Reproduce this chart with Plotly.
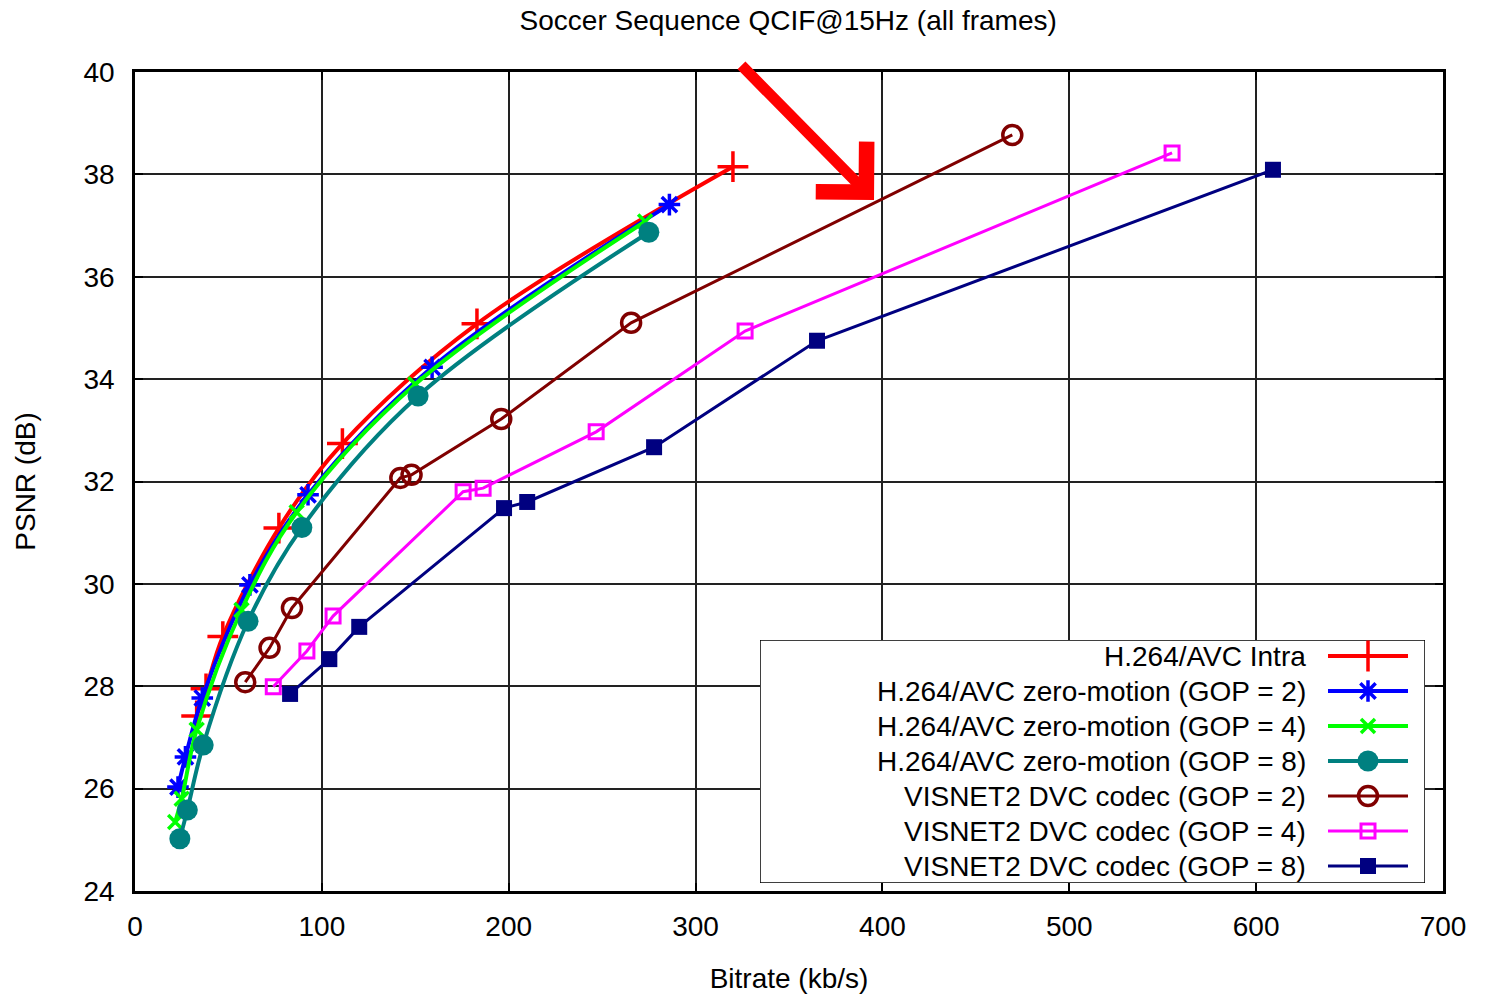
import plotly.graph_objects as go

# ---------------- data ----------------
intra_x = [33, 38, 47, 77, 111, 183, 320]
intra_y = [27.42, 27.95, 28.97, 31.09, 32.74, 35.08, 38.15]

gop2_x = [23, 27, 36, 61.5, 92.6, 159, 286]
gop2_y = [26.03, 26.62, 27.77, 29.98, 31.74, 34.23, 37.41]

gop4_x = [21.5, 25, 33, 57, 86.5, 150, 273]
gop4_y = [25.35, 25.80, 27.15, 29.49, 31.40, 33.90, 37.08]

gop8_x = [24, 28, 36.5, 60.5, 89.3, 151.5, 275]
gop8_y = [25.02, 25.58, 26.85, 29.27, 31.10, 33.67, 36.87]

dvc2_x = [59, 72, 84, 142, 148, 196, 265.5, 469.5]
dvc2_y = [28.08, 28.75, 29.53, 32.07, 32.13, 33.22, 35.10, 38.77]

dvc4_x = [74, 92, 106, 175.6, 186.3, 246.8, 326.5, 555]
dvc4_y = [27.99, 28.69, 29.37, 31.80, 31.87, 32.97, 34.94, 38.42]

dvc8_x = [83, 104, 120, 197.5, 209.9, 277.8, 365, 609]
dvc8_y = [27.85, 28.53, 29.16, 31.48, 31.60, 32.67, 34.75, 38.09]

labels = [
    "H.264/AVC Intra",
    "H.264/AVC zero-motion (GOP = 2)",
    "H.264/AVC zero-motion (GOP = 4)",
    "H.264/AVC zero-motion (GOP = 8)",
    "VISNET2 DVC codec (GOP = 2)",
    "VISNET2 DVC codec (GOP = 4)",
    "VISNET2 DVC codec (GOP = 8)",
]
x_ticks = [0, 100, 200, 300, 400, 500, 600, 700]
y_ticks = [24, 26, 28, 30, 32, 34, 36, 38, 40]

title_text = "Soccer Sequence QCIF@15Hz (all frames)"
x_title = "Bitrate (kb/s)"
y_title = "PSNR (dB)"

# ---------------- styles ----------------
FONT = "Liberation Sans, Arial, sans-serif"
FS = 28
styles = [
    dict(color="#FF0000", symbol="cross-thin", size=22, lw=4, mlw=3.5, shape="spline"),
    dict(color="#0000FF", symbol="asterisk", size=18, lw=4, mlw=3.5, shape="spline"),
    dict(color="#00FF00", symbol="x-thin", size=14, lw=4, mlw=3.5, shape="spline"),
    dict(color="#008080", symbol="circle", size=21, lw=4, mlw=0, shape="spline"),
    dict(color="#800000", symbol="circle-open", size=19, lw=3, mlw=3.5, shape="linear"),
    dict(color="#FF00FF", symbol="square-open", size=14, lw=3, mlw=3, shape="linear"),
    dict(color="#000080", symbol="square", size=16, lw=3, mlw=0, shape="linear"),
]
series = [(intra_x, intra_y), (gop2_x, gop2_y), (gop4_x, gop4_y), (gop8_x, gop8_y),
          (dvc2_x, dvc2_y), (dvc4_x, dvc4_y), (dvc8_x, dvc8_y)]

fig = go.Figure()

for (xs, ys), st, name in zip(series, styles, labels):
    fig.add_trace(go.Scatter(
        x=xs, y=ys, mode="lines+markers", name=name, showlegend=False,
        line=dict(color=st["color"], width=st["lw"], shape=st["shape"], smoothing=1.0),
        marker=dict(symbol=st["symbol"], size=st["size"], color=st["color"],
                    line=dict(color=st["color"], width=st["mlw"])),
        xaxis="x", yaxis="y",
    ))

# ---------------- custom legend (symbol on the right) ----------------
LX0, LX1, LY0, LY1 = 760, 1425, 640, 883
rows = [656, 691, 726, 761, 796, 831, 866]
fig.add_shape(type="rect", xref="x2", yref="y2", x0=LX0, x1=LX1, y0=LY0, y1=LY1,
              line=dict(color="black", width=1.5), fillcolor="white", layer="between")
for r, st, name in zip(rows, styles, labels):
    fig.add_trace(go.Scatter(
        x=[1328, 1408], y=[r, r], mode="lines", showlegend=False, hoverinfo="skip",
        line=dict(color=st["color"], width=st["lw"]), xaxis="x2", yaxis="y2"))
    fig.add_trace(go.Scatter(
        x=[1368], y=[r], mode="markers", showlegend=False, hoverinfo="skip",
        marker=dict(symbol=st["symbol"], size=st["size"], color=st["color"],
                    line=dict(color=st["color"], width=st["mlw"])),
        xaxis="x2", yaxis="y2"))
    fig.add_annotation(x=1308, y=r, xref="x2", yref="y2", text=name, showarrow=False,
                       xanchor="right", yanchor="middle",
                       font=dict(family=FONT, size=FS, color="black"))

# red arrow
fig.add_annotation(x=395.5, y=37.5, xref="x", yref="y", ax=-134, ay=-136,
                   axref="pixel", ayref="pixel", text="", showarrow=True,
                   arrowcolor="#FF0000", arrowwidth=11, arrowhead=4, arrowsize=1.25)

axis_common = dict(
    showline=True, linecolor="black", linewidth=2.5, mirror="ticks",
    ticks="inside", ticklen=8, tickwidth=2, tickcolor="black",
    showgrid=True, gridcolor="#222222", gridwidth=1.5, zeroline=False,
    tickfont=dict(family=FONT, size=FS, color="black"),
)

fig.update_layout(
    width=1490, height=995,
    margin=dict(l=135, r=47, t=72, b=104),
    paper_bgcolor="white", plot_bgcolor="white",
    title=dict(text=title_text, x=0.529, xanchor="center", y=0.98, yanchor="middle",
               font=dict(family=FONT, size=FS, color="black")),
    xaxis=dict(range=[0, 700], tickvals=x_ticks, ticklabelstandoff=9, automargin=False,
               title=dict(text=x_title, font=dict(family=FONT, size=FS, color="black"), standoff=28),
               **axis_common),
    yaxis=dict(range=[24, 40], tickvals=y_ticks, ticklabelstandoff=12, automargin=False,
               title=dict(text=y_title, font=dict(family=FONT, size=FS, color="black"), standoff=40),
               **axis_common),
    xaxis2=dict(domain=[(LX0 - 135) / 1308, (LX1 - 135) / 1308], range=[LX0, LX1],
                visible=False, anchor="y2", fixedrange=True),
    yaxis2=dict(domain=[(891 - LY1) / 819, (891 - LY0) / 819], range=[LY1, LY0],
                visible=False, anchor="x2", fixedrange=True),
    showlegend=False,
)

fig.write_html("out.html")
